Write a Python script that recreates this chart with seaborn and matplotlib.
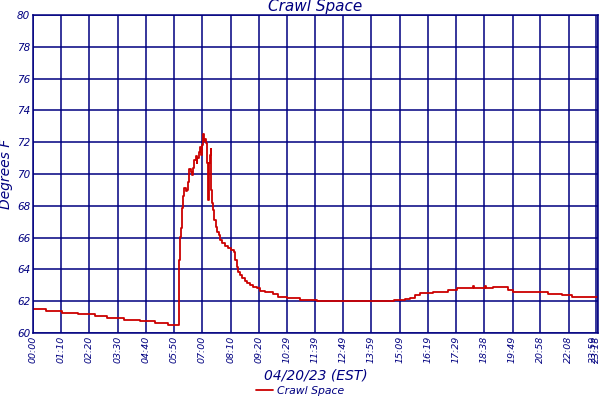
import numpy as np
import pandas as pd
import matplotlib
matplotlib.use('Agg')
import matplotlib.pyplot as plt
import seaborn as sns

# minutes after midnight (axis units) and temperature readings
minutes = [0, 32, 72, 112, 154, 184, 226, 265, 303, 335,
           363, 365, 367, 369, 373, 374, 379, 381, 384, 386, 388, 391, 394, 396,
           399, 403, 406, 407, 411, 413, 416, 417, 420, 422, 425, 427, 430, 432,
           434, 436, 437, 439, 441, 442, 445, 447, 450, 453, 456, 460, 464, 469,
           476, 483, 490, 498, 502, 505, 508, 513, 519, 525, 531, 538, 546, 556,
           563, 575, 596, 608, 629, 662, 704, 848, 894, 923, 935, 947, 960, 992,
           1029, 1052, 1090, 1093, 1120, 1123, 1140, 1178, 1190, 1233, 1277, 1312,
           1337, 1401]
temps = [61.49, 61.36, 61.24, 61.17, 61.09, 60.94, 60.82, 60.75, 60.65, 60.52,
         64.6, 66.06, 66.6, 67.86, 68.6, 69.1, 68.9, 69.0, 69.5, 70.04, 70.3, 70.1, 69.94, 70.36,
         70.88, 71.13, 70.67, 71.0, 71.4, 71.72, 71.6, 71.2, 71.82, 72.5, 72.1, 72.2, 71.93, 70.7,
         68.36, 69.6, 70.7, 71.2, 71.6, 69.0, 68.16, 67.74, 67.1, 66.68, 66.37, 66.16, 65.85, 65.64,
         65.47, 65.36, 65.22, 65.11, 64.6, 64.17, 63.86, 63.65, 63.44, 63.27, 63.13, 63.02, 62.91, 62.8,
         62.66, 62.56, 62.45, 62.28, 62.18, 62.08, 62.0, 62.03, 62.08, 62.12, 62.22, 62.39, 62.5, 62.56,
         62.7, 62.85, 62.95, 62.85, 62.95, 62.85, 62.92, 62.7, 62.58, 62.55, 62.47, 62.39,
         62.28, 62.28]

tick_pos = [0, 70, 140, 210, 280, 350, 420, 490, 560, 629, 699, 769, 839, 909,
            979, 1049, 1118, 1189, 1258, 1328, 1396, 1401]
tick_labels = ['00:00', '01:10', '02:20', '03:30', '04:40', '05:50', '07:00', '08:10',
               '09:20', '10:29', '11:39', '12:49', '13:59', '15:09', '16:19', '17:29',
               '18:38', '19:49', '20:58', '22:08', '23:18', '23:59']

navy = '#000080'
red = '#CC0000'

df = pd.DataFrame({'minute': minutes, 'temp': temps})

sns.set_theme(style='white')
plt.rcParams['font.family'] = ['DejaVu Sans']

fig = plt.figure(figsize=(6, 4), dpi=100)
ax = fig.add_axes([0.055, 0.1675, 0.9417, 0.795])

sns.lineplot(data=df, x='minute', y='temp', ax=ax, color=red, linewidth=1.3,
             drawstyle='steps-post', label='Crawl Space', legend=False)

ax.set_xlim(0, 1401)
ax.set_ylim(60, 80)
ax.set_yticks(np.arange(60, 81, 2))
ax.set_xticks(tick_pos)
ax.set_xticklabels(tick_labels, rotation=90)
ax.grid(True, color=navy, linewidth=1.1)
ax.set_axisbelow(True)
for s in ax.spines.values():
    s.set_color(navy)
    s.set_linewidth(1.1)

ax.tick_params(axis='both', colors=navy, length=0, pad=2)
for lbl in ax.get_yticklabels():
    lbl.set_fontstyle('italic')
    lbl.set_fontsize(7.5)
for lbl in ax.get_xticklabels():
    lbl.set_fontstyle('italic')
    lbl.set_fontsize(6.8)
ax.get_xticklabels()[-1].set_horizontalalignment('right')

ax.set_title('Crawl Space', color=navy, fontstyle='italic', fontsize=11, pad=3)
ax.set_xlabel('04/20/23 (EST)', color=navy, fontstyle='italic', fontsize=10, labelpad=4)
ax.set_ylabel('Degrees F', color=navy, fontstyle='italic', fontsize=10, labelpad=3)

leg = fig.legend(loc='lower center', bbox_to_anchor=(0.5, -0.015), frameon=False,
                 fontsize=7.8, handlelength=1.6, handletextpad=0.4)
for t in leg.get_texts():
    t.set_color(navy)
    t.set_fontstyle('italic')

fig.savefig('out.png', dpi=100, facecolor='white')
